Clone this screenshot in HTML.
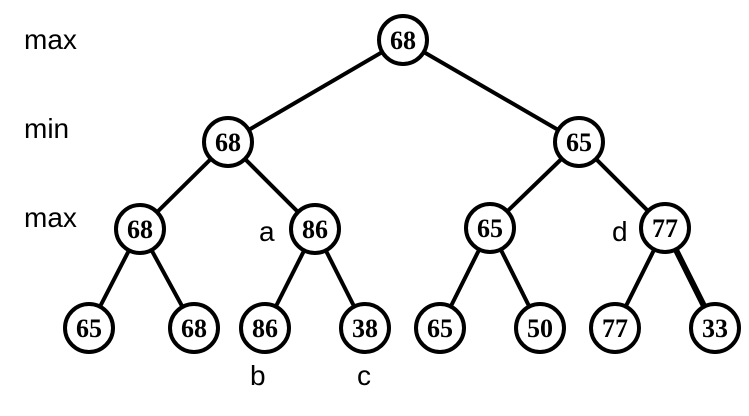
<!DOCTYPE html>
<html><head><style>html,body{margin:0;background:#fff;overflow:hidden;width:749px;height:416px}svg{display:block}</style></head><body>
<svg width="749" height="416" xmlns="http://www.w3.org/2000/svg">
<g stroke="#000" stroke-width="4">
<line x1="403" y1="40" x2="228" y2="142"/><line x1="403" y1="40" x2="579" y2="142"/>
<line x1="228" y1="142" x2="140" y2="229"/><line x1="228" y1="142" x2="315" y2="229"/>
<line x1="579" y1="142" x2="490" y2="228"/><line x1="579" y1="142" x2="665" y2="228"/>
<line x1="140" y1="229" x2="89" y2="328"/><line x1="140" y1="229" x2="194" y2="328"/>
<line x1="315" y1="229" x2="265" y2="328"/><line x1="315" y1="229" x2="365" y2="328"/>
<line x1="490" y1="228" x2="440" y2="328"/><line x1="490" y1="228" x2="540" y2="328"/>
<line x1="665" y1="228" x2="615" y2="328"/><line x1="665" y1="228" x2="715" y2="328" stroke-width="6"/>
</g>
<g fill="#fff" stroke="#000" stroke-width="4">
<circle cx="403" cy="40" r="24"/><circle cx="228" cy="142" r="24"/><circle cx="579" cy="142" r="24"/>
<circle cx="140" cy="229" r="24"/><circle cx="315" cy="229" r="24"/><circle cx="490" cy="228" r="24"/><circle cx="665" cy="228" r="24"/>
<circle cx="89" cy="328" r="24"/><circle cx="194" cy="328" r="24"/><circle cx="265" cy="328" r="24"/><circle cx="365" cy="328" r="24"/>
<circle cx="440" cy="328" r="24"/><circle cx="540" cy="328" r="24"/><circle cx="615" cy="328" r="24"/><circle cx="715" cy="328" r="24"/>
</g>
<g font-family="Liberation Serif,serif" font-weight="bold" font-size="26" text-anchor="middle">
<text x="403" y="49">68</text><text x="228" y="151">68</text><text x="579" y="151">65</text>
<text x="140" y="238">68</text><text x="315" y="238">86</text><text x="490" y="237">65</text><text x="665" y="237">77</text>
<text x="89" y="337">65</text><text x="194" y="337">68</text><text x="265" y="337">86</text><text x="365" y="337">38</text>
<text x="440" y="337">65</text><text x="540" y="337">50</text><text x="615" y="337">77</text><text x="715" y="337">33</text>
</g>
<g font-family="Liberation Sans,sans-serif" font-size="28">
<text x="24" y="49">max</text><text x="24" y="138">min</text><text x="24" y="227">max</text>
<text x="259" y="241">a</text><text x="612" y="241">d</text><text x="250" y="385">b</text><text x="357" y="385">c</text>
</g>
</svg>
</body></html>
